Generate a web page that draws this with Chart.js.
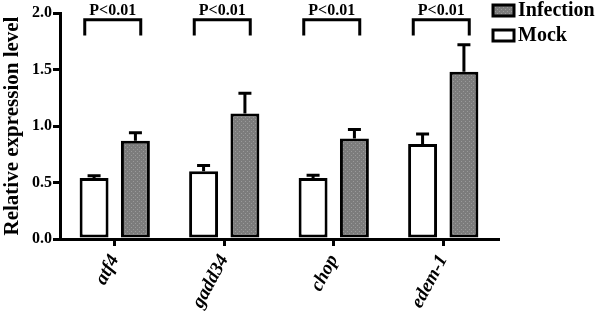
<!DOCTYPE html>
<html>
<head>
<meta charset="utf-8">
<script src="https://cdn.jsdelivr.net/npm/chart.js"></script>
<style>
  html, body { margin: 0; padding: 0; background: #fff; }
  #wrap { width: 597px; height: 311px; }
</style>
</head>
<body>
<div id="wrap"><canvas id="chart"></canvas></div>
<script>
// data
const genes = ['atf4', 'gadd34', 'chop', 'edem-1'];
const mock = [0.54, 0.60, 0.54, 0.84];
const mockErr = [0.02, 0.05, 0.025, 0.09];
const infection = [0.87, 1.11, 0.89, 1.48];
const infectionErr = [0.07, 0.18, 0.08, 0.24];
const pLabels = ['P<0.01', 'P<0.01', 'P<0.01', 'P<0.01'];
const yTicks = [0, 0.5, 1.0, 1.5, 2.0];

const serif = '"Liberation Serif", "Times New Roman", serif';

// dotted grey fill like the original print
function makePattern() {
  const c = document.createElement('canvas');
  c.width = 4; c.height = 4;
  const g = c.getContext('2d');
  g.fillStyle = '#7c7c7c';
  g.fillRect(0, 0, 4, 4);
  g.fillStyle = '#9a9a9a';
  g.fillRect(1, 1, 1, 1);
  g.fillRect(3, 3, 1, 1);
  return g.createPattern(c, 'repeat');
}
const grey = makePattern();

const errs = [mockErr, infectionErr];

const errorBars = {
  id: 'errorBars',
  afterDatasetsDraw(chart) {
    const ctx = chart.ctx;
    const y = chart.scales.y;
    ctx.save();
    ctx.strokeStyle = '#000';
    ctx.lineWidth = 3;
    chart.data.datasets.forEach((ds, i) => {
      chart.getDatasetMeta(i).data.forEach((bar, j) => {
        const top = y.getPixelForValue(ds.data[j] + errs[i][j]);
        ctx.beginPath();
        ctx.moveTo(bar.x, bar.y);
        ctx.lineTo(bar.x, top);
        ctx.moveTo(bar.x - 6.5, top);
        ctx.lineTo(bar.x + 6.5, top);
        ctx.stroke();
      });
    });
    ctx.restore();
  }
};

const brackets = {
  id: 'brackets',
  afterDraw(chart) {
    const ctx = chart.ctx;
    const x = chart.scales.x, y = chart.scales.y;
    const yTop = y.getPixelForValue(1.94);
    const yBot = y.getPixelForValue(1.80);
    ctx.save();
    ctx.strokeStyle = '#000';
    ctx.lineWidth = 3;
    ctx.fillStyle = '#000';
    ctx.font = 'bold 16px ' + serif;
    ctx.textAlign = 'center';
    ctx.textBaseline = 'alphabetic';
    genes.forEach((g, i) => {
      const c = x.getPixelForValue(i);
      const l = c - 30, r = c + 26;
      ctx.beginPath();
      ctx.moveTo(l, yBot);
      ctx.lineTo(l, yTop);
      ctx.lineTo(r, yTop);
      ctx.lineTo(r, yBot);
      ctx.stroke();
      ctx.fillText(pLabels[i], (l + r) / 2, 15);
    });
    ctx.restore();
  }
};

const legendBoxes = {
  id: 'legendBoxes',
  afterDraw(chart) {
    const ctx = chart.ctx;
    const items = [
      { label: 'Infection', fill: grey, y: 10 },
      { label: 'Mock', fill: '#fff', y: 35 }
    ];
    ctx.save();
    ctx.font = 'bold 20px ' + serif;
    ctx.textBaseline = 'middle';
    ctx.textAlign = 'left';
    items.forEach(it => {
      ctx.fillStyle = it.fill;
      ctx.fillRect(493, it.y - 5, 21, 11);
      ctx.strokeStyle = '#000';
      ctx.lineWidth = 3;
      ctx.strokeRect(493, it.y - 5, 21, 11);
      ctx.fillStyle = '#000';
      ctx.fillText(it.label, 518, it.y + 1);
    });
    ctx.restore();
  }
};

new Chart(document.getElementById('chart'), {
  type: 'bar',
  data: {
    labels: genes,
    datasets: [
      {
        label: 'Mock',
        data: mock,
        backgroundColor: '#fff',
        borderColor: '#000',
        borderWidth: 3,
        borderSkipped: false
      },
      {
        label: 'Infection',
        data: infection,
        backgroundColor: grey,
        borderColor: '#000',
        borderWidth: 3,
        borderSkipped: false
      }
    ]
  },
  options: {
    responsive: true,
    maintainAspectRatio: false,
    animation: false,
    categoryPercentage: 0.755,
    barPercentage: 0.7,
    layout: { padding: { top: 13, right: 99, left: 0, bottom: 0 } },
    plugins: {
      legend: { display: false },
      tooltip: { enabled: false }
    },
    scales: {
      x: {
        afterFit(s) { s.height = 72; },
        border: { display: true, color: '#000', width: 3 },
        grid: { offset: false, drawOnChartArea: false, color: '#000', lineWidth: 3, tickLength: 7 },
        ticks: {
          color: '#000',
          minRotation: 62,
          maxRotation: 62,
          padding: 5,
          font: { family: serif, size: 19, weight: 'bold', style: 'italic' }
        }
      },
      y: {
        min: 0,
        max: 2,
        afterFit(s) { s.width = 60; },
        afterBuildTicks(s) { s.ticks = yTicks.map(v => ({ value: v })); },
        border: { display: true, color: '#000', width: 3 },
        grid: { drawOnChartArea: false, color: '#000', lineWidth: 3, tickLength: 7 },
        ticks: {
          color: '#000',
          padding: 1,
          callback: v => Number(v).toFixed(1),
          font: { family: serif, size: 16, weight: 'bold' }
        },
        title: {
          display: true,
          text: 'Relative expression level',
          color: '#000',
          padding: { top: 0, bottom: 0 },
          font: { family: serif, size: 21, weight: 'bold' }
        }
      }
    }
  },
  plugins: [errorBars, brackets, legendBoxes]
});
</script>
</body>
</html>
